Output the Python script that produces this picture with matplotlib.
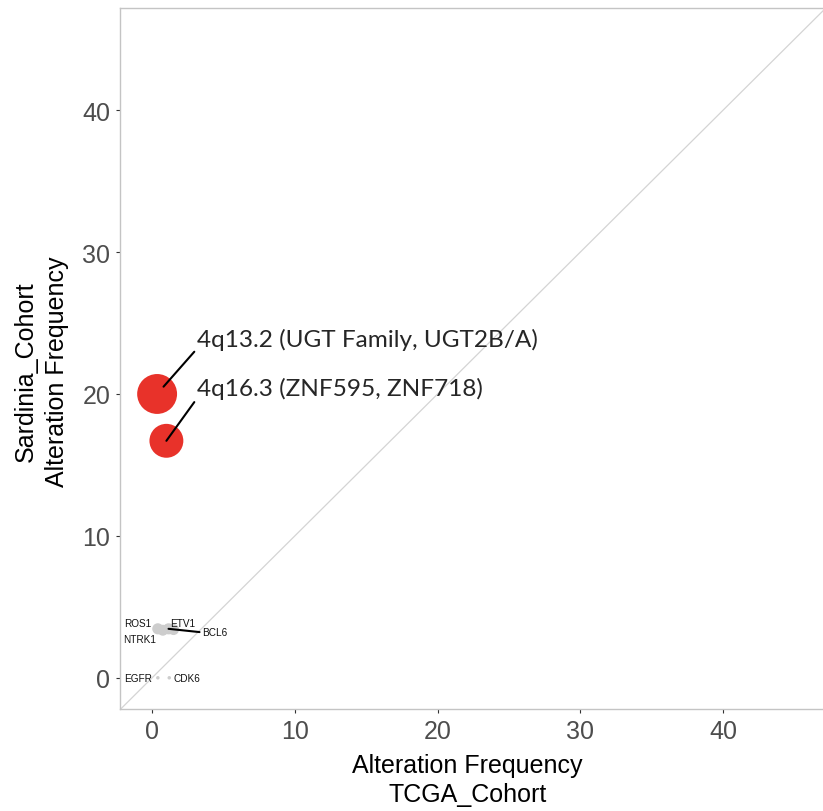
import matplotlib
matplotlib.use("Agg")
import matplotlib.pyplot as plt

# ---- data ----
labels = ["4q13.2 (UGT Family, UGT2B/A)", "4q16.3 (ZNF595, ZNF718)",
          "ROS1", "NTRK1", "ETV1", "BCL6", "EGFR", "CDK6"]
tcga_freq = [0.35, 1.0, 0.4, 0.75, 1.5, 1.15, 0.4, 1.2]
sardinia_freq = [20.0, 16.7, 3.45, 3.35, 3.4, 3.45, 0.0, 0.0]
highlight = [True, True, False, False, False, False, False, False]

x_ticks = [0, 10, 20, 30, 40]
y_ticks = [0, 10, 20, 30, 40]

RED = "#E8322A"
GREY_PT = "#cdcdcd"
BORDER = "#c4c4c4"
TICK = "#4d4d4d"

# label placement (data coords), like ggrepel put them
label_pos = {
    "4q13.2 (UGT Family, UGT2B/A)": (3.15, 23.9),
    "4q16.3 (ZNF595, ZNF718)": (3.15, 20.4),
    "ROS1": (-1.0, 3.85),
    "NTRK1": (-0.85, 2.75),
    "ETV1": (2.15, 3.85),
    "BCL6": (4.4, 3.2),
    "EGFR": (-0.95, 0.0),
    "CDK6": (2.45, 0.0),
}
with_segment = {"4q13.2 (UGT Family, UGT2B/A)", "4q16.3 (ZNF595, ZNF718)", "BCL6"}

plt.rcParams["font.family"] = ["Liberation Sans", "DejaVu Sans"]

fig = plt.figure(figsize=(8.23, 8.12), dpi=100)
ax = fig.add_axes([120 / 823, 102 / 812, 703 / 823, 701 / 812])

ax.set_xlim(-2.25, 47.0)
ax.set_ylim(-2.2, 47.2)

# identity line
ax.axline((0, 0), slope=1, color="#d4d4d4", lw=0.9, zorder=1)

# point size grows with the Sardinia frequency
sizes = [((3.5 + 1.82 * v) * 0.72) ** 2 for v in sardinia_freq]
sizes = [s * 1.3 if v and v < 10 else s for s, v in zip(sizes, sardinia_freq)]
colors = [RED if h else GREY_PT for h in highlight]
ax.scatter(tcga_freq, sardinia_freq, s=sizes, c=colors, linewidths=0, zorder=3)

for lab, x, y, h in zip(labels, tcga_freq, sardinia_freq, highlight):
    tx, ty = label_pos[lab]
    if h:
        kw = dict(fontsize=17.6, family=["Lato", "DejaVu Sans"], color="#262626",
                  ha="left", va="center")
        rel = (0.0, 0.05)
        shrink = 7 if lab.startswith("4q13") else 0
    else:
        kw = dict(fontsize=7.2, color="#111111", ha="center", va="center")
        rel = (0.0, 0.5)
        shrink = 0
    if lab in with_segment:
        ax.annotate(lab, xy=(x, y), xytext=(tx, ty), zorder=5,
                    arrowprops=dict(arrowstyle="-", color="black", lw=1.5,
                                    shrinkA=0, shrinkB=shrink, relpos=rel),
                    **kw)
    else:
        ax.text(tx, ty, lab, zorder=5, **kw)

ax.set_xticks(x_ticks)
ax.set_yticks(y_ticks)
ax.tick_params(axis="both", labelsize=18, labelcolor=TICK, color="#333333",
               length=3, width=0.8, pad=4)

for side in ("left", "top", "bottom"):
    ax.spines[side].set_color(BORDER)
    ax.spines[side].set_linewidth(1.0)
ax.spines["right"].set_visible(False)

ax.set_xlabel("Alteration Frequency\nTCGA_Cohort", fontsize=18, linespacing=1.25)
ax.xaxis.label.set_va("center")
ax.xaxis.set_label_coords(0.494, -0.101)
ax.set_ylabel("Sardinia_Cohort\nAlteration Frequency", fontsize=18, linespacing=1.4)
ax.yaxis.label.set_va("center")
ax.yaxis.set_label_coords(-0.112, 0.483)

fig.savefig("out.png", dpi=100, facecolor="white")
